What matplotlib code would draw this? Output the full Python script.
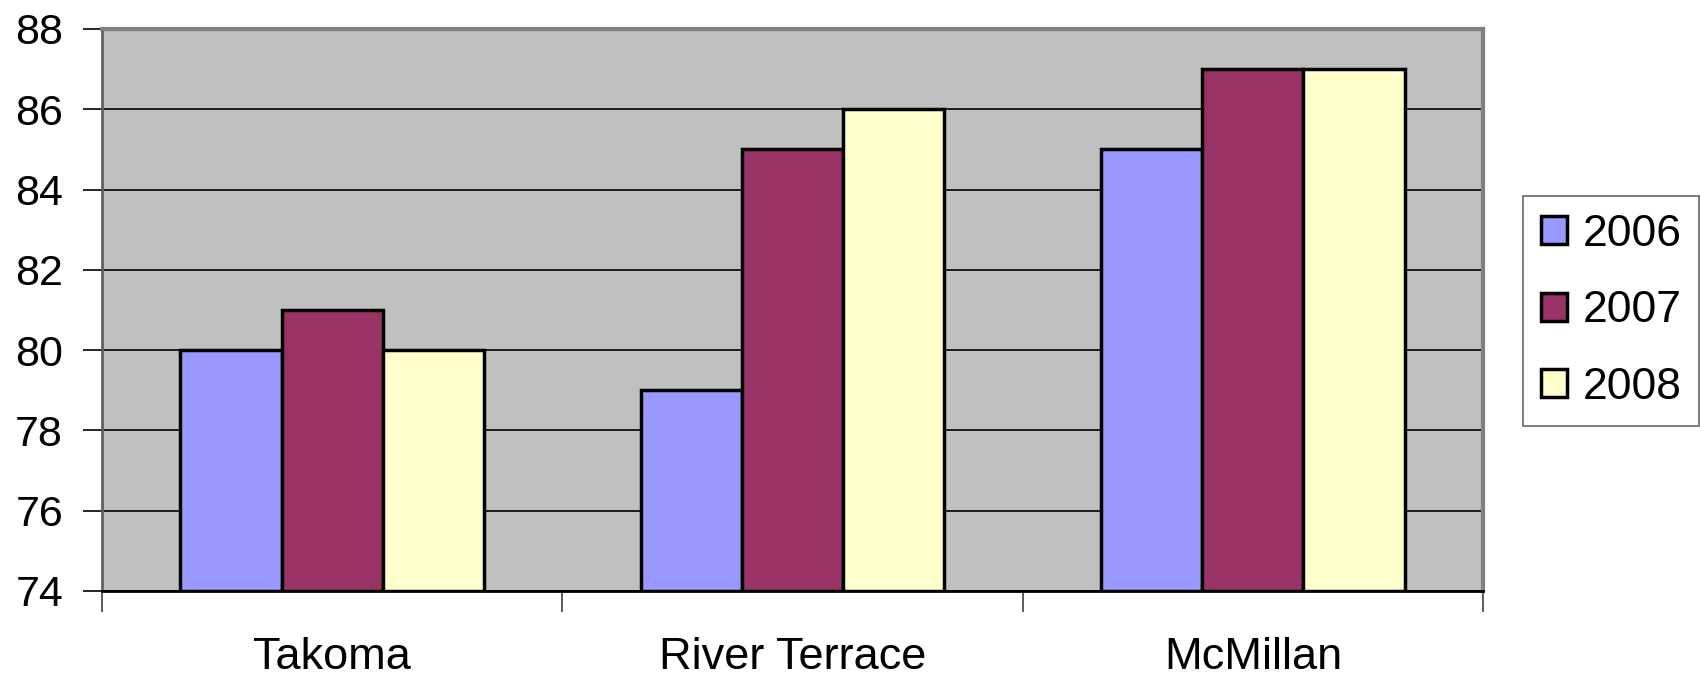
import matplotlib
matplotlib.use("Agg")
import matplotlib.pyplot as plt
import numpy as np
from matplotlib.patches import Patch

categories = ["Takoma", "River Terrace", "McMillan"]
series_names = ["2006", "2007", "2008"]
values_2006 = [80, 79, 85]
values_2007 = [81, 85, 87]
values_2008 = [80, 86, 87]
yticks = [74, 76, 78, 80, 82, 84, 86, 88]
colors = ["#9999FF", "#993366", "#FFFFCC"]

plt.rcParams['font.family'] = ['Liberation Sans', 'DejaVu Sans']

fig = plt.figure(figsize=(17, 6.79), dpi=100)
ax = fig.add_axes([102/1700, 1 - 591/679, (1483-102)/1700, (591-29)/679])
ax.set_facecolor("#C0C0C0")

x = np.arange(len(categories))
w = 0.22
for i, (vals, c) in enumerate(zip([values_2006, values_2007, values_2008], colors)):
    ax.bar(x + (i - 1) * w, np.array(vals) - 74, bottom=74, width=w, color=c,
           edgecolor="black", linewidth=2.5, zorder=3)

ax.set_xlim(-0.5, 2.5)
ax.set_ylim(74, 88)
ax.set_yticks(yticks)
ax.set_yticklabels([str(t) for t in yticks], fontsize=31)
ax.yaxis.grid(True, color="black", linewidth=1.2, zorder=1)
ax.set_axisbelow(True)
ax.tick_params(axis="y", length=14, width=1.2, pad=14, color="black")

ax.set_xticks([0.5, 1.5, 2.5, -0.5], minor=False)
ax.set_xticklabels([])
ax.set_xticks(x, minor=True)
ax.set_xticklabels(categories, minor=True, fontsize=32.5)
ax.tick_params(axis="x", which="major", length=15, width=1.2, color="#404040")
ax.tick_params(axis="x", which="minor", length=0, pad=33)

for s in ["top", "right"]:
    ax.spines[s].set_color("#808080")
    ax.spines[s].set_linewidth(3)
ax.spines["left"].set_color("#606060")
ax.spines["left"].set_linewidth(2)
ax.spines["bottom"].set_color("black")
ax.spines["bottom"].set_linewidth(2)

handles = [Patch(facecolor=c, edgecolor="black", linewidth=2.5, label=n)
           for c, n in zip(colors, series_names)]
leg = fig.legend(handles=handles, loc="upper left",
                 bbox_to_anchor=(1523/1700, 1 - 196/679), fontsize=32,
                 frameon=True, fancybox=False, edgecolor="#404040",
                 handlelength=0.6, handleheight=0.6, handletextpad=0.34,
                 labelspacing=0.8, borderpad=0.4, borderaxespad=0)
leg.get_frame().set_linewidth(1.2)

fig.savefig("out.png", dpi=100, facecolor="white")
